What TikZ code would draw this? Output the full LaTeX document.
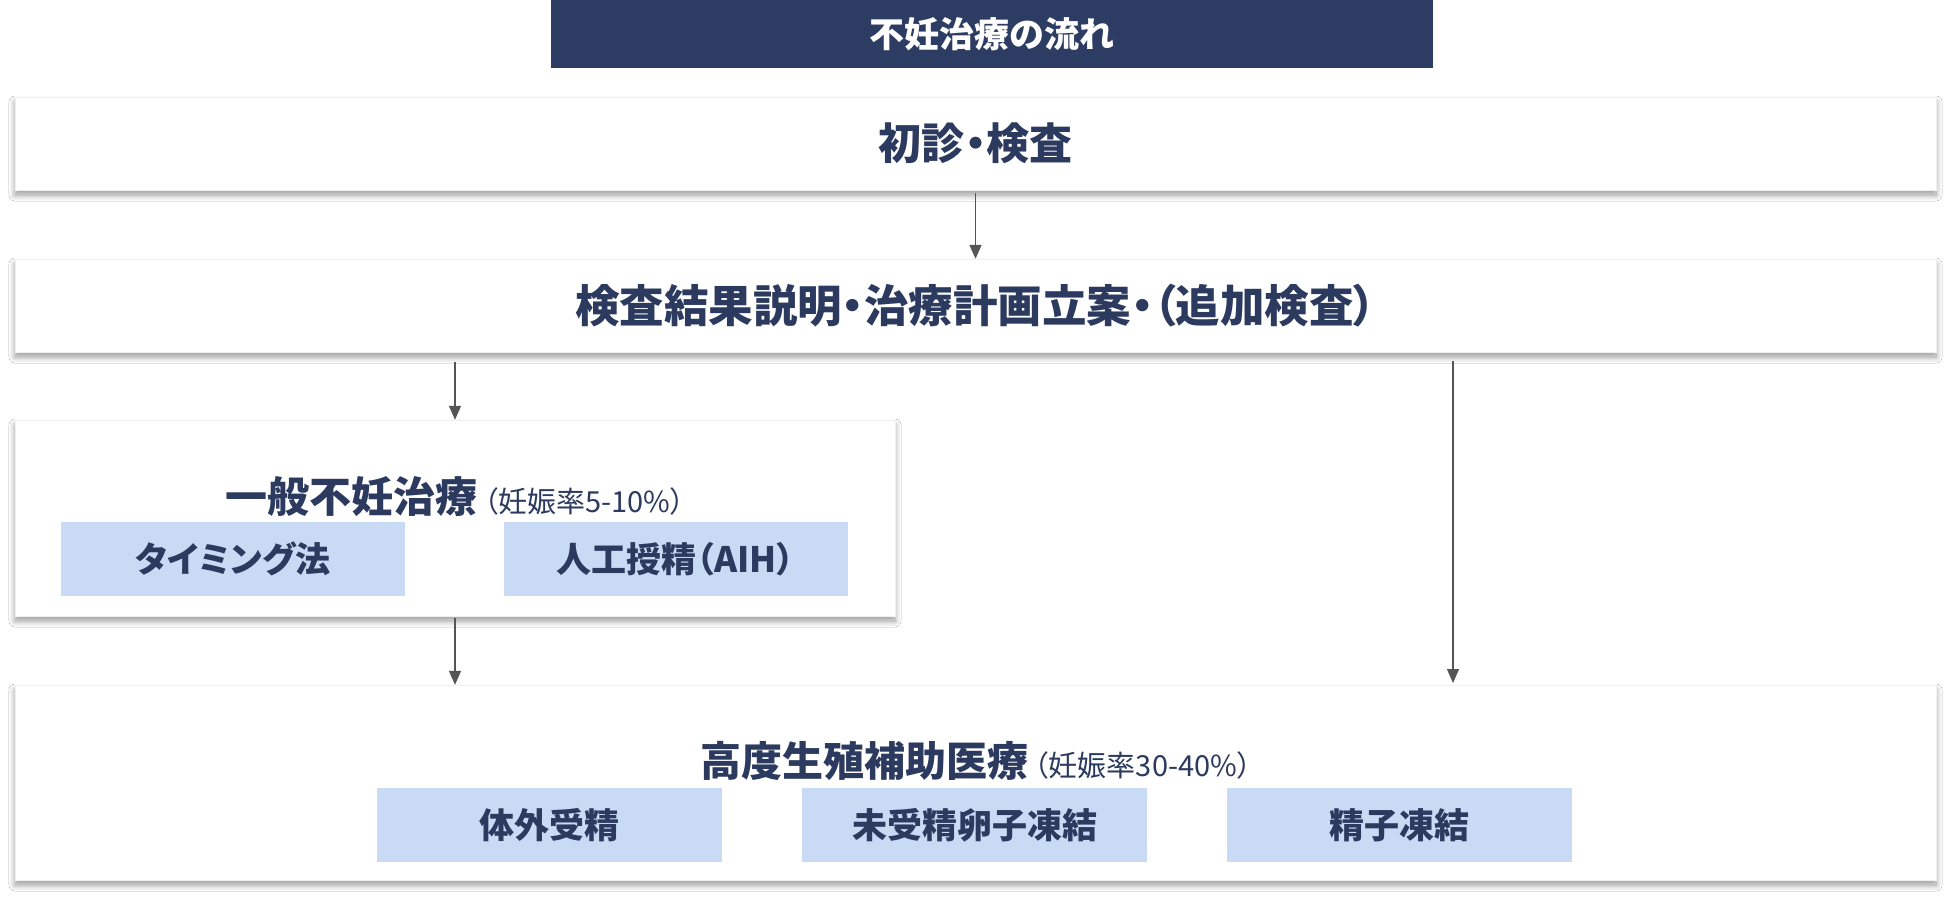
\documentclass[tikz,border=0pt]{standalone}
\usepackage{fontspec}
\usetikzlibrary{arrows.meta,shadows.blur}
\newfontfamily\cjk[RawFeature=+palt]{Noto Sans CJK JP}
\definecolor{navy}{HTML}{2C3C62}
\definecolor{txtc}{HTML}{2B3A5E}
\definecolor{subc}{HTML}{C9DAF5}
\definecolor{arrc}{HTML}{555555}
\newcommand{\myfs}[1]{\fontsize{#1pt}{#1pt}\selectfont}
\newcommand{\subfont}{\cjk\bfseries\fontsize{35pt}{35pt}\selectfont}
\tikzset{
  card/.style={rectangle, fill=white, draw=black!6, inner sep=0pt,
    blur shadow={shadow xshift=0pt, shadow yshift=-5pt, shadow blur radius=6pt, shadow blur steps=10, shadow opacity=40}},
  subbox/.style={rectangle, fill=subc, inner sep=0pt, minimum width=344, minimum height=74,
    text=txtc, font=\subfont},
  arr/.style={draw=arrc, line width=1.5pt, -{Triangle[length=14pt,width=12pt]}},
  lbl/.style={text=txtc, inner sep=0pt}}
\begin{document}
\begin{tikzpicture}[x=1pt,y=-1pt]
\useasboundingbox (0,0) rectangle (1950,900);
\fill[white] (0,0) rectangle (1950,900);
% title bar
\node[rectangle, fill=navy, minimum width=882, minimum height=68, inner sep=0pt,
  text=white] (title) at (992,34) {\cjk\bfseries\myfs{35}不妊治療の流れ};
% boxes
\node[card, minimum width=1921, minimum height=93] (b1) at (975.5,143.5) {};
\node[lbl] (b1t) at (b1.center) {\cjk\bfseries\myfs{43}初診・検査};
\node[card, minimum width=1921, minimum height=93] (b2) at (975.5,305.5) {};
\node[lbl] (b2t) at (b2.center) {\cjk\bfseries\myfs{44.5}検査結果説明・治療計画立案・（追加検査）};
\node[card, minimum width=880, minimum height=196] (b3) at (455,518) {};
\node[lbl] (b3t) at (455,497) {\cjk\bfseries\myfs{42}一般不妊治療\hspace{6pt}\mdseries\myfs{29}（妊娠率5-10\%）};
\node[subbox] (t1) at (233,559) {タイミング法};
\node[subbox] (t2) at (675.5,559) {人工授精（AIH）};
\node[card, minimum width=1921, minimum height=195] (b4) at (975.5,782.5) {};
\node[lbl] (b4t) at (976,761) {\cjk\bfseries\myfs{41}高度生殖補助医療\hspace{6pt}\mdseries\myfs{29}（妊娠率30-40\%）};
\node[subbox, minimum width=345] (a1) at (549.5,825) {体外受精};
\node[subbox, minimum width=345] (a2) at (974.5,825) {未受精卵子凍結};
\node[subbox, minimum width=345] (a3) at (1399.5,825) {精子凍結};
% arrows
\coordinate (r1) at (1453,361);
\coordinate (r2) at (1453,683);
\draw[arr] ([yshift=-3pt]b1.south) -- (b2.north);
\draw[arr] ([yshift=-10pt]b2.south -| b3.north) -- (b3.north);
\draw[arr] (r1) -- (r2);
\draw[arr] ([yshift=-2pt]b3.south) -- (b3.south |- b4.north);
\end{tikzpicture}
\end{document}
